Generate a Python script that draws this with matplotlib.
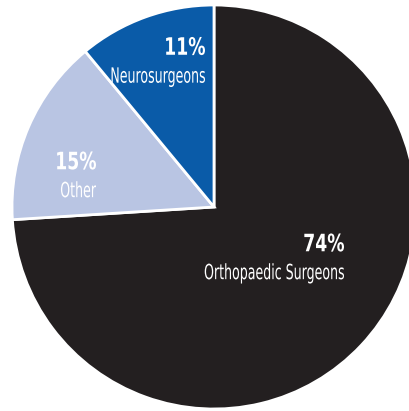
import matplotlib.pyplot as plt
import matplotlib.transforms as mtransforms
from matplotlib.textpath import TextPath
from matplotlib.patches import PathPatch
from matplotlib.font_manager import FontProperties

# share of respondents by specialty
labels = ['Orthopaedic Surgeons', 'Other', 'Neurosurgeons']
shares = [74, 15, 11]
colors = ['#231f20', '#b9c5e3', '#0a5ba8']

# label anchors (right edge, cap centre of the % line); units are pixels
label_pos = {
    'Orthopaedic Surgeons': (130, -35.5),
    'Other': (-118, 46.5),
    'Neurosurgeons': (-9, 161),
}


def narrow_text(ax, x, y, s, em, sx, weight='normal'):
    # condensed lettering: squeeze a text path horizontally, right aligned
    fp = FontProperties(family='DejaVu Sans', weight=weight)
    tp = TextPath((0, 0), s, size=em, prop=fp)
    ext = tp.get_extents()
    cap = 0.73 * em
    tr = mtransforms.Affine2D().scale(sx, 1).translate(x - ext.x1 * sx, y - cap / 2)
    ax.add_patch(PathPatch(tr.transform_path(tp), facecolor='white',
                           edgecolor='none', zorder=5))


fig = plt.figure(figsize=(4.09, 4.11), dpi=100)
ax = fig.add_axes([0, 0, 1, 1])

ax.pie(shares, colors=colors, startangle=90, counterclock=False,
       radius=202, center=(0, 0),
       wedgeprops=dict(edgecolor='white', linewidth=2))

for lab, val in zip(labels, shares):
    x, y = label_pos[lab]
    narrow_text(ax, x, y, f'{val}%', em=24, sx=0.72, weight='bold')
    narrow_text(ax, x, y - 29, lab, em=21, sx=0.6)

ax.set_aspect('equal')
ax.set_xlim(-214, 409 - 214)
ax.set_ylim(207 - 411, 207)
ax.axis('off')

plt.savefig('out.png', dpi=100)
